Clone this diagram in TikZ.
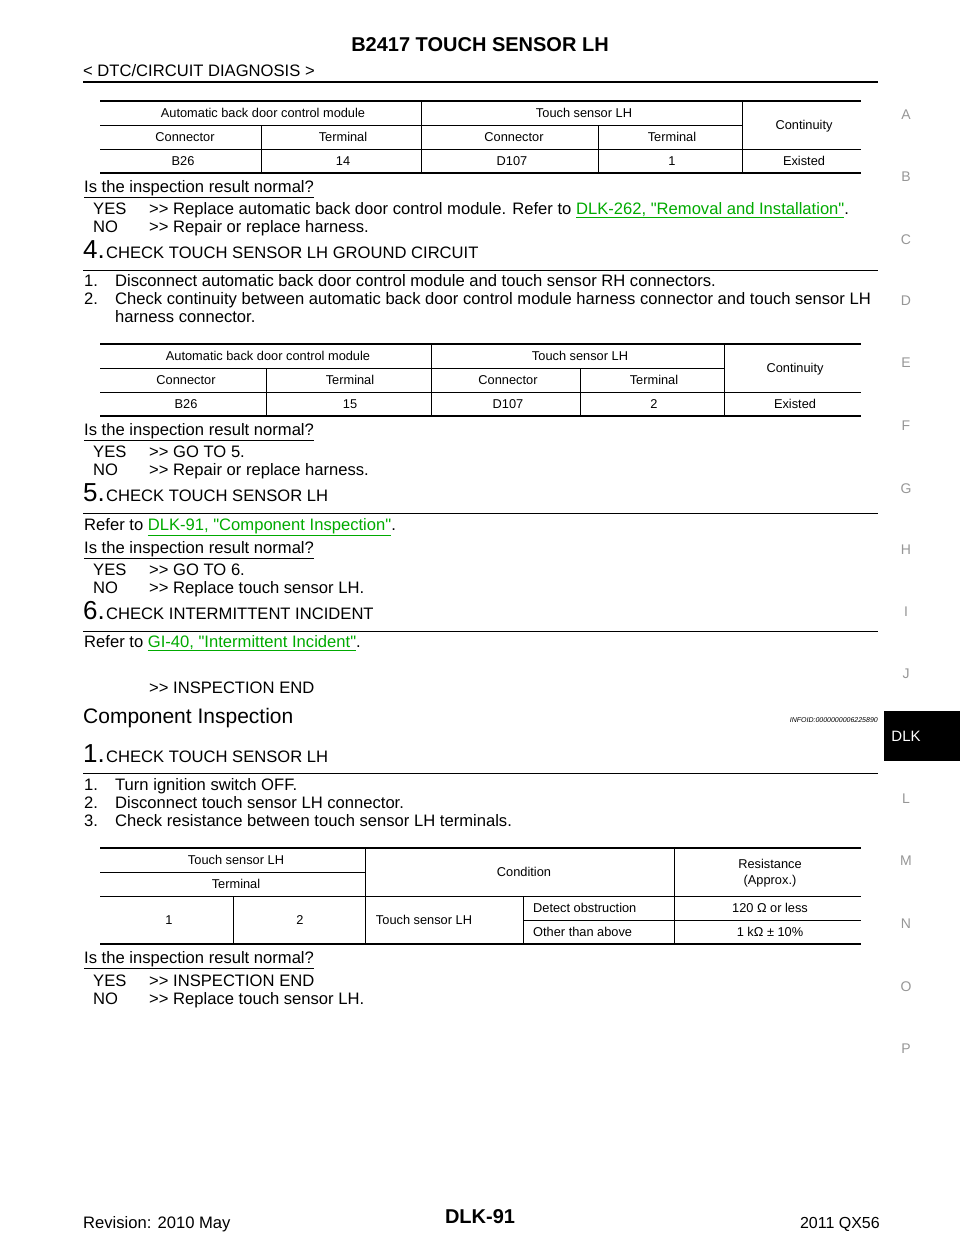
\documentclass[tikz,border=0pt]{standalone}
\usepackage{fontspec}
\setmainfont{Liberation Sans}[Ligatures=TeXOff]
\definecolor{lnk}{RGB}{0,170,0}
\definecolor{gr}{RGB}{150,150,150}
\begin{document}
\begin{tikzpicture}[x=1pt,y=-1pt,
 tx/.style={anchor=base west,inner sep=0,font=\fontsize{16.6}{19}\selectfont},
 tb/.style={anchor=base,inner sep=0,font=\fontsize{12.8}{15}\selectfont},
 side/.style={anchor=base,inner sep=0,text=gr,font=\fontsize{14}{16}\selectfont},
 thin/.style={line width=0.6pt},
 thick2/.style={line width=1.4pt}]
\useasboundingbox (0,0) rectangle (960,1242);
\node[anchor=base,inner sep=0,font=\bfseries\fontsize{20}{24}\selectfont] (title) at (480,51) {B2417 TOUCH SENSOR LH};
\node[tx] (sub) at (83,76) {< DTC/CIRCUIT DIAGNOSIS >};
\draw[line width=1.8pt] (83,82)--(878,82);
% side letters
\foreach \l/\y in {A/119,B/181,C/244,D/305,E/367,F/430,G/493,H/554,I/616,J/678,L/803,M/865,N/928,O/991,P/1053}{\node[side] at (906,\y) {\l};}
\fill[black] (884,711) rectangle (960,761);
\node[anchor=base,inner sep=0,text=white,font=\fontsize{15}{18}\selectfont] (dlk) at (906,741) {DLK};
% table 1
\draw[thick2] (100,101)--(861,101) (100,173)--(861,173);
\draw[thin] (100,125)--(742,125) (100,149)--(861,149);
\draw[thin] (261,125)--(261,173) (421,101)--(421,173) (598,125)--(598,173) (742,101)--(742,173);
\node[tb] at (263,117) {Automatic back door control module};
\node[tb] at (584,117) {Touch sensor LH};
\node[tb] at (804,129) {Continuity};
\node[tb] at (185,141) {Connector};\node[tb] at (343,141) {Terminal};
\node[tb] at (514,141) {Connector};\node[tb] at (672,141) {Terminal};
\node[tb] at (183,165) {B26};\node[tb] at (343,165) {14};\node[tb] at (512,165) {D107};\node[tb] at (672,165) {1};\node[tb] at (804,165) {Existed};
\node[tx] at (84,192) {\underline{Is the inspection result normal?}};
\node[tx] at (93,214) {YES};\node[tx] at (149,214) {>> Replace automatic back door control module. Refer to \textcolor{lnk}{\underline{DLK-262, "Removal and Installation"}}.};
\node[tx] at (93,232) {NO};\node[tx] at (149,232) {>> Repair or replace harness.};
% step 4
\node[anchor=base west,inner sep=0,font=\fontsize{26}{30}\selectfont] at (83,258) {4.};
\node[tx] at (106,258) {CHECK TOUCH SENSOR LH GROUND CIRCUIT};
\draw[thin] (83,270)--(878,270);
\node[tx] at (84,286) {1.};\node[tx] at (115,286) {Disconnect automatic back door control module and touch sensor RH connectors.};
\node[tx] at (84,304) {2.};\node[tx] at (115,304) {Check continuity between automatic back door control module harness connector and touch sensor LH};
\node[tx] at (115,322) {harness connector.};
% table 2
\draw[thick2] (100,344)--(861,344) (100,416)--(861,416);
\draw[thin] (100,368)--(724,368) (100,392)--(861,392);
\draw[thin] (266,368)--(266,416) (431,344)--(431,416) (580,368)--(580,416) (724,344)--(724,416);
\node[tb] at (268,360) {Automatic back door control module};
\node[tb] at (580,360) {Touch sensor LH};
\node[tb] at (795,372) {Continuity};
\node[tb] at (186,384) {Connector};\node[tb] at (350,384) {Terminal};
\node[tb] at (508,384) {Connector};\node[tb] at (654,384) {Terminal};
\node[tb] at (186,408) {B26};\node[tb] at (350,408) {15};\node[tb] at (508,408) {D107};\node[tb] at (654,408) {2};\node[tb] at (795,408) {Existed};
\node[tx] at (84,435) {\underline{Is the inspection result normal?}};
\node[tx] at (93,457) {YES};\node[tx] at (149,457) {>> GO TO 5.};
\node[tx] at (93,475) {NO};\node[tx] at (149,475) {>> Repair or replace harness.};
% step 5
\node[anchor=base west,inner sep=0,font=\fontsize{26}{30}\selectfont] at (83,501) {5.};
\node[tx] at (106,501) {CHECK TOUCH SENSOR LH};
\draw[thin] (83,513)--(878,513);
\node[tx] at (84,530) {Refer to \textcolor{lnk}{\underline{DLK-91, "Component Inspection"}}.};
\node[tx] at (84,553) {\underline{Is the inspection result normal?}};
\node[tx] at (93,575) {YES};\node[tx] at (149,575) {>> GO TO 6.};
\node[tx] at (93,593) {NO};\node[tx] at (149,593) {>> Replace touch sensor LH.};
% step 6
\node[anchor=base west,inner sep=0,font=\fontsize{26}{30}\selectfont] at (83,619) {6.};
\node[tx] at (106,619) {CHECK INTERMITTENT INCIDENT};
\draw[thin] (83,631)--(878,631);
\node[tx] at (84,647) {Refer to \textcolor{lnk}{\underline{GI-40, "Intermittent Incident"}}.};
\node[tx] at (149,693) {>> INSPECTION END};
% component inspection
\node[anchor=base west,inner sep=0,font=\fontsize{21}{25}\selectfont] at (83,723) {Component Inspection};
\node[anchor=base east,inner sep=0,font=\itshape\fontsize{7}{8}\selectfont] at (878,722) {INFOID:0000000006225890};
\node[anchor=base west,inner sep=0,font=\fontsize{26}{30}\selectfont] at (83,762) {1.};
\node[tx] at (106,762) {CHECK TOUCH SENSOR LH};
\draw[thin] (83,773)--(878,773);
\node[tx] at (84,790) {1.};\node[tx] at (115,790) {Turn ignition switch OFF.};
\node[tx] at (84,808) {2.};\node[tx] at (115,808) {Disconnect touch sensor LH connector.};
\node[tx] at (84,826) {3.};\node[tx] at (115,826) {Check resistance between touch sensor LH terminals.};
% table 3
\draw[thick2] (100,848)--(861,848) (100,944)--(861,944);
\draw[thin] (100,872)--(365,872) (100,896)--(861,896) (523,920)--(861,920);
\draw[thin] (365,848)--(365,944) (674,848)--(674,944) (233,896)--(233,944) (523,896)--(523,944);
\node[tb] at (236,864) {Touch sensor LH};
\node[tb] at (236,888) {Terminal};
\node[tb] at (524,876) {Condition};
\node[tb] at (770,868) {Resistance};
\node[tb] at (770,884) {(Approx.)};
\node[tb] at (169,924) {1};\node[tb] at (300,924) {2};
\node[tb] at (424,924) {Touch sensor LH};
\node[tb,anchor=base west] at (533,912) {Detect obstruction};
\node[tb,anchor=base west] at (533,936) {Other than above};
\node[tb] at (770,912) {120 Ω or less};
\node[tb] at (770,936) {1 kΩ ± 10\%};
\node[tx] at (84,963) {\underline{Is the inspection result normal?}};
\node[tx] at (93,986) {YES};\node[tx] at (149,986) {>> INSPECTION END};
\node[tx] at (93,1004) {NO};\node[tx] at (149,1004) {>> Replace touch sensor LH.};
% footer
\node[tx] at (83,1228) {Revision: 2010 May};
\node[anchor=base,inner sep=0,font=\bfseries\fontsize{20}{24}\selectfont] at (480,1223) {DLK-91};
\node[anchor=base east,inner sep=0,font=\fontsize{16}{19}\selectfont] at (880,1228) {2011 QX56};
\end{tikzpicture}
\end{document}
